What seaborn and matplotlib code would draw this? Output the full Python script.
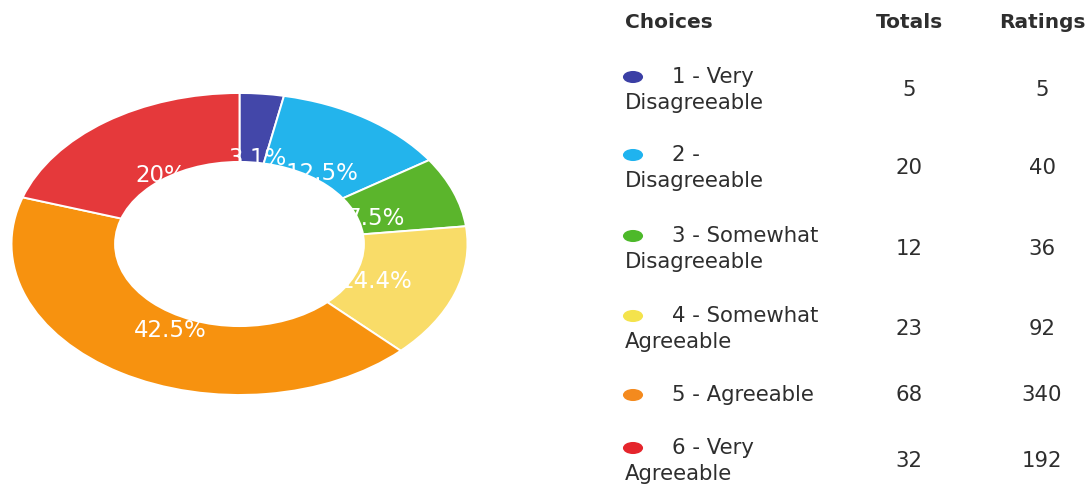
import textwrap

import matplotlib
matplotlib.use("Agg")
import matplotlib.pyplot as plt
from matplotlib.patches import Circle
from matplotlib.path import Path
import numpy as np
import pandas as pd
import seaborn as sns

# Survey answers
choices = [
    "1 - Very Disagreeable",
    "2 - Disagreeable",
    "3 - Somewhat Disagreeable",
    "4 - Somewhat Agreeable",
    "5 - Agreeable",
    "6 - Very Agreeable",
]
totals = [5, 20, 12, 23, 68, 32]
ratings = [5, 40, 36, 92, 340, 192]
headers = ["Choices", "Totals", "Ratings"]

wedge_colors = ["#4347a9", "#23b4ec", "#5bb52c", "#f9dc68", "#f7920f", "#e5393b"]
dot_colors = ["#3b3fa5", "#1fb3ef", "#4db92a", "#f4e34c", "#f48a1e", "#e5252c"]

sns.set_theme(style="white")
plt.rcParams["font.family"] = ["DejaVu Sans"]

W, H = 1090, 487
fig = plt.figure(figsize=(W / 100, H / 100), dpi=100)
fig.patch.set_facecolor("white")


def fmt_pct(p):
    s = f"{p:.1f}"
    if s.endswith(".0"):
        s = s[:-2]
    return s + "%"


# Donut (stretched horizontally)
cx, cy, rx, ry = 239.5, 244, 228, 151
ax = fig.add_axes([(cx - rx) / W, (H - cy - ry) / H, 2 * rx / W, 2 * ry / H])
wedges, texts, autotexts = ax.pie(
    totals,
    colors=wedge_colors,
    startangle=90,
    counterclock=False,
    autopct=fmt_pct,
    pctdistance=0.615,
    wedgeprops=dict(edgecolor="white", linewidth=1.4),
    textprops=dict(color="white", fontsize=16.5),
)
# percentage labels sit slightly right of and below their anchor points
for t in autotexts:
    x, y = t.get_position()
    t.set_position((x + 4 / rx, y - 7 / ry))
# the hole is drawn above the labels, hiding the parts that reach into it
ax.add_patch(Circle((0, 0), 0.55, facecolor="white", edgecolor="none", zorder=10))
ax.set_aspect("auto")
ax.set_xlim(-1, 1)
ax.set_ylim(-1, 1)
ax.axis("off")

# Summary table in pixel coordinates
tx = fig.add_axes([0, 0, 1, 1])
tx.set_xlim(0, W)
tx.set_ylim(H, 0)
tx.axis("off")

text_color = "#2e2e2e"
x_left, x_indent, x_dot = 625, 672, 633
x_tot, x_rat = 909, 1042
line1_y = [77, 155, 236, 316, 395, 448]
line_gap = 26

tx.text(x_left, 22, headers[0], fontsize=14.5, fontweight="bold", color=text_color, va="center", ha="left")
tx.text(x_tot, 22, headers[1], fontsize=14.5, fontweight="bold", color=text_color, va="center", ha="center")
tx.text(x_rat, 22, headers[2], fontsize=14.5, fontweight="bold", color=text_color, va="center", ha="center")

for i, name in enumerate(choices):
    lines = textwrap.wrap(name, 14)
    y1 = line1_y[i]
    tx.text(x_indent, y1, lines[0], fontsize=15.3, color=text_color, va="center", ha="left")
    if len(lines) > 1:
        tx.text(x_left, y1 + line_gap, lines[1], fontsize=15.3, color=text_color, va="center", ha="left")
        ynum = y1 + line_gap / 2
    else:
        ynum = y1
    tx.text(x_tot, ynum, str(totals[i]), fontsize=15.3, color=text_color, va="center", ha="center")
    tx.text(x_rat, ynum, str(ratings[i]), fontsize=15.3, color=text_color, va="center", ha="center")

# Colored legend dots (flattened ovals)
circ = Path.unit_circle()
oval = Path(circ.vertices * np.array([1.0, 0.6]), circ.codes)
dots = pd.DataFrame({"x": [x_dot] * len(choices), "y": line1_y, "choice": choices})
sns.scatterplot(
    data=dots, x="x", y="y", hue="choice", palette=dot_colors,
    marker=oval, s=210, linewidth=0, legend=False, ax=tx,
)
tx.set_xlim(0, W)
tx.set_ylim(H, 0)
tx.axis("off")

fig.savefig("out.png", dpi=100, facecolor="white")
